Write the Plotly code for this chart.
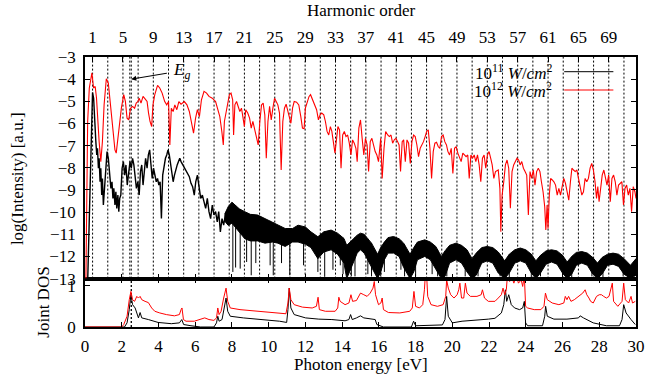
import numpy as np
import plotly.graph_objects as go

PHOTON_EV = 0.4133          # laser photon energy (eV)
EG_LINES = [2.44, 2.52]     # band-gap markers (eV)

# (photon energy eV, log intensity) for 10^12 W/cm^2
red_top = [
    (0.05, -13.0), (0.10, -9.0), (0.145, -5.91), (0.234, -4.40), (0.377, -3.72), (0.466, -4.40),
    (0.555, -4.33), (0.627, -4.86), (0.698, -6.21), (0.77, -6.82), (0.86, -7.72), (0.948, -6.82),
    (1.04, -5.16), (1.16, -3.98), (1.27, -4.18), (1.39, -5.16), (1.52, -6.36), (1.63, -7.19),
    (1.70, -7.34), (1.77, -6.82), (1.88, -5.91), (1.98, -5.31), (2.11, -4.70), (2.20, -5.01),
    (2.29, -5.76), (2.38, -5.84), (2.48, -5.31), (2.59, -5.23), (2.70, -5.31), (2.79, -5.08),
    (2.88, -5.01), (2.95, -4.86), (3.05, -5.08), (3.16, -4.78), (3.27, -4.89), (3.38, -5.01),
    (3.46, -5.53), (3.54, -5.91), (3.63, -6.14), (3.70, -5.16), (3.80, -4.70), (3.95, -4.28),
    (4.07, -4.40), (4.20, -4.63), (4.34, -5.01), (4.45, -5.16), (4.55, -5.01), (4.62, -6.97),
    (4.70, -5.31), (4.80, -5.46), (4.89, -5.16), (5.00, -5.38), (5.11, -5.01), (5.23, -5.13),
    (5.41, -5.01), (5.55, -5.16), (5.68, -5.46), (5.80, -6.06), (5.91, -6.44), (6.02, -5.76),
    (6.12, -5.38), (6.23, -5.69), (6.34, -4.93), (6.48, -4.55), (6.62, -4.63), (6.75, -4.78),
    (6.93, -4.86), (7.11, -5.01), (7.23, -5.31), (7.34, -5.69), (7.45, -6.36), (7.53, -6.97),
    (7.59, -5.91), (7.71, -5.31), (7.86, -4.70), (7.95, -4.63), (8.04, -4.93), (8.09, -6.52),
    (8.16, -5.16), (8.25, -5.01), (8.34, -5.23), (8.43, -5.46), (8.52, -5.31), (8.61, -5.69),
    (8.68, -6.14), (8.75, -5.38), (8.86, -5.53), (8.96, -5.76), (9.05, -6.21), (9.14, -5.91),
    (9.25, -6.29), (9.34, -6.52), (9.43, -6.97), (9.52, -5.91), (9.61, -5.16), (9.70, -5.08),
    (9.79, -5.61), (9.87, -7.57), (9.96, -5.91), (10.05, -5.23), (10.14, -5.84), (10.23, -5.31),
    (10.32, -4.86), (10.41, -5.01), (10.50, -5.16), (10.59, -5.53), (10.68, -8.10), (10.77, -5.91),
    (10.86, -5.31), (10.95, -5.13), (11.03, -5.38), (11.12, -5.69), (11.21, -5.99), (11.30, -5.31),
    (11.39, -5.01), (11.52, -5.04), (11.64, -5.16), (11.75, -5.69), (11.84, -6.21), (11.93, -6.24),
    (12.00, -5.31), (12.11, -5.01), (12.20, -4.78), (12.28, -4.70), (12.39, -4.93), (12.50, -5.08),
    (12.61, -5.38), (12.71, -5.84), (12.80, -5.61), (12.89, -5.53), (13.00, -5.61), (13.09, -5.91),
    (13.18, -6.36), (13.27, -6.52), (13.36, -6.14), (13.44, -6.36), (13.53, -6.82), (13.61, -7.34),
    (13.68, -6.82), (13.77, -6.14), (13.86, -6.29), (13.94, -8.02), (14.03, -6.52), (14.12, -6.36),
    (14.21, -6.59), (14.30, -6.52), (14.39, -6.89), (14.48, -7.42), (14.57, -6.74), (14.66, -6.89),
    (14.75, -7.12), (14.82, -7.72), (14.91, -6.21), (15.00, -5.84), (15.09, -6.67), (15.18, -7.42),
    (15.27, -6.67), (15.36, -6.97), (15.44, -8.17), (15.53, -6.82), (15.62, -6.67), (15.71, -6.97),
    (15.80, -7.27), (15.89, -7.42), (15.98, -7.72), (16.10, -6.67), (16.18, -8.48), (16.28, -7.12),
    (16.37, -6.36), (16.48, -6.52), (16.57, -6.59), (16.66, -6.52), (16.75, -6.89), (16.84, -6.74),
    (16.93, -6.67), (17.02, -6.82), (17.10, -6.97), (17.18, -8.17), (17.27, -6.82), (17.35, -6.74),
    (17.44, -7.72), (17.53, -6.74), (17.62, -6.89), (17.71, -7.80), (17.80, -6.82), (17.89, -6.52),
    (17.98, -6.59), (18.07, -6.97), (18.16, -7.50), (18.25, -7.12), (18.34, -6.97), (18.43, -6.82),
    (18.52, -6.59), (18.60, -6.36), (18.69, -6.29), (18.78, -7.12), (18.87, -8.48), (18.96, -7.27),
    (19.05, -6.89), (19.14, -6.85), (19.23, -7.04), (19.32, -7.12), (19.41, -6.59), (19.50, -6.52),
    (19.59, -6.82), (19.68, -6.97), (19.76, -7.27), (19.85, -7.42), (19.94, -7.12), (20.03, -8.25),
    (20.12, -7.12), (20.21, -7.04), (20.30, -7.34), (20.39, -7.57), (20.48, -7.72), (20.57, -7.34),
    (20.66, -7.42), (20.75, -7.50), (20.84, -7.42), (20.92, -8.48), (21.01, -7.42), (21.10, -7.57),
    (21.19, -7.42), (21.28, -7.72), (21.37, -7.42), (21.46, -7.87), (21.55, -8.63), (21.64, -7.57),
    (21.73, -7.42), (21.82, -8.02), (21.91, -7.42), (22.00, -7.27), (22.09, -7.57), (22.17, -7.87),
    (22.26, -8.48), (22.35, -8.17), (22.50, -8.10), (22.59, -8.93), (22.64, -10.89), (22.71, -9.23),
    (22.80, -8.63), (22.89, -7.87), (22.98, -7.65), (23.07, -8.02), (23.16, -9.83), (23.25, -8.17),
    (23.34, -7.87), (23.43, -7.72), (23.52, -7.57), (23.61, -7.65), (23.69, -7.87), (23.78, -7.72),
    (23.87, -8.02), (23.96, -8.17), (24.05, -8.33), (24.14, -10.13), (24.23, -8.17), (24.32, -8.48),
    (24.41, -8.10), (24.50, -8.78), (24.59, -8.17), (24.68, -8.02), (24.77, -8.17), (24.85, -8.63),
    (24.94, -9.08), (25.03, -9.76), (25.09, -10.81), (25.16, -9.68), (25.21, -10.74), (25.28, -9.23),
    (25.35, -8.48), (25.44, -8.55), (25.53, -8.63), (25.62, -8.78), (25.71, -9.23), (25.80, -8.93),
    (25.89, -9.23), (25.98, -8.85), (26.07, -8.48), (26.16, -8.70), (26.25, -9.08), (26.34, -9.46),
    (26.43, -8.63), (26.51, -8.02), (26.60, -8.10), (26.69, -8.17), (26.78, -8.10), (26.87, -8.48),
    (26.96, -9.00), (27.05, -9.23), (27.14, -9.08), (27.23, -8.48), (27.32, -8.63), (27.41, -8.48),
    (27.50, -8.02), (27.59, -7.80), (27.68, -8.10), (27.77, -8.63), (27.85, -9.38), (27.92, -8.85),
    (27.99, -9.53), (28.07, -8.93), (28.16, -8.33), (28.25, -8.10), (28.34, -8.40), (28.42, -8.78),
    (28.51, -8.33), (28.60, -9.53), (28.69, -8.48), (28.78, -8.33), (28.87, -8.63), (28.96, -9.23),
    (29.05, -8.78), (29.14, -8.70), (29.23, -8.63), (29.32, -9.68), (29.40, -8.93), (29.49, -8.78),
    (29.58, -9.23), (29.67, -8.93), (29.76, -9.98), (29.85, -8.85), (29.94, -9.08), (30.0, -9.38),
]

# (photon energy eV, log intensity) for 10^11 W/cm^2, low-energy part
black_top = [
    (0.15, -13.0), (0.27, -8.93), (0.34, -5.91), (0.41, -4.60), (0.47, -4.86), (0.52, -5.91),
    (0.59, -6.82), (0.64, -7.42), (0.68, -7.12), (0.73, -8.02), (0.77, -7.57), (0.82, -8.63),
    (0.86, -8.02), (0.91, -9.23), (0.95, -8.48), (1.00, -9.68), (1.05, -8.93), (1.13, -7.87),
    (1.20, -7.27), (1.27, -7.57), (1.34, -8.17), (1.41, -8.93), (1.47, -8.63), (1.52, -9.38),
    (1.57, -8.93), (1.63, -9.68), (1.68, -9.08), (1.73, -9.83), (1.79, -9.23), (1.84, -9.98),
    (1.89, -9.38), (1.95, -9.23), (2.02, -8.02), (2.09, -7.72), (2.16, -8.33), (2.23, -7.87),
    (2.30, -8.78), (2.38, -8.02), (2.45, -7.72), (2.52, -8.02), (2.59, -7.57), (2.66, -7.87),
    (2.73, -8.48), (2.80, -8.93), (2.88, -8.63), (2.95, -9.23), (3.02, -8.17), (3.09, -7.87),
    (3.16, -8.78), (3.23, -8.17), (3.30, -7.57), (3.38, -8.02), (3.45, -7.42), (3.52, -7.19),
    (3.59, -7.72), (3.66, -8.48), (3.73, -8.02), (3.80, -8.33), (3.88, -8.63), (3.95, -8.48),
    (4.02, -8.78), (4.09, -8.63), (4.16, -10.29), (4.23, -8.33), (4.30, -7.87), (4.38, -7.57),
    (4.45, -7.42), (4.52, -7.19), (4.59, -7.42), (4.66, -7.87), (4.73, -8.17), (4.80, -8.63),
    (4.87, -8.33), (4.95, -8.02), (5.02, -7.87), (5.09, -7.72), (5.16, -7.57), (5.23, -7.72),
    (5.32, -7.87), (5.41, -8.02), (5.50, -8.10), (5.59, -8.25), (5.68, -8.40), (5.77, -8.70),
    (5.86, -8.85), (5.95, -9.23), (6.03, -8.63), (6.12, -8.33), (6.21, -8.93), (6.30, -9.38),
    (6.39, -9.23), (6.48, -9.53), (6.57, -9.83), (6.66, -9.38), (6.75, -9.98), (6.84, -10.29),
    (6.93, -9.68), (7.02, -10.13), (7.11, -9.98), (7.20, -10.44), (7.28, -9.98), (7.37, -10.89),
    (7.46, -10.29), (7.55, -10.59), (7.64, -10.13),
]

# (photon energy eV, upper edge, lower edge) of the dense 10^11 W/cm^2 band
black_band = [
    (7.60, -10.1, -10.4), (7.8, -9.75, -10.6), (8.0, -9.55, -10.5), (8.2, -9.7, -10.7),
    (8.4, -9.85, -10.9), (8.7, -9.98, -11.2), (9.0, -10.1, -11.3), (9.4, -10.13, -11.3),
    (9.8, -10.29, -11.4), (10.2, -10.44, -11.35), (10.5, -10.59, -11.4), (10.9, -10.74, -11.55),
    (11.3, -10.74, -11.35), (11.6, -10.59, -11.35), (12.0, -10.67, -11.45), (12.3, -10.89, -11.6),
    (12.68, -11.11, -12.1), (13.0, -10.89, -11.8), (13.4, -10.81, -11.7), (13.75, -10.95, -11.9),
    (14.1, -11.19, -12.3), (14.25, -11.5, -13.0), (14.45, -11.34, -12.6), (14.82, -11.04, -11.85),
    (15.0, -10.95, -11.7), (15.2, -11.0, -11.85), (15.4, -11.2, -12.2), (15.6, -11.4, -12.5),
    (15.93, -11.9, -13.0), (16.1, -11.6, -12.7), (16.3, -11.35, -12.15), (16.5, -11.15, -11.85),
    (16.8, -11.1, -11.85), (17.1, -11.2, -12.0), (17.35, -11.4, -12.5), (17.7, -11.9, -13.0),
    (17.9, -11.6, -12.7), (18.1, -11.35, -12.15), (18.5, -11.25, -12.0), (18.8, -11.35, -12.15),
    (19.1, -11.55, -12.6), (19.4, -12.0, -13.0), (19.6, -11.75, -12.9), (19.85, -11.5, -12.3),
    (20.2, -11.4, -12.15), (20.5, -11.5, -12.3), (20.8, -11.7, -12.7), (21.07, -12.1, -13.0),
    (21.3, -11.85, -12.85), (21.6, -11.6, -12.3), (21.9, -11.55, -12.2), (22.2, -11.6, -12.3),
    (22.5, -11.8, -12.75), (22.85, -12.2, -13.0), (23.1, -11.9, -12.75), (23.4, -11.7, -12.3),
    (23.7, -11.62, -12.2), (24.0, -11.7, -12.3), (24.3, -11.9, -12.75), (24.55, -12.2, -13.0),
    (24.8, -11.95, -12.75), (25.1, -11.75, -12.35), (25.4, -11.7, -12.25), (25.7, -11.75, -12.35),
    (26.0, -11.95, -12.75), (26.25, -12.25, -13.0), (26.5, -12.0, -12.8), (26.75, -11.82, -12.4),
    (27.05, -11.78, -12.3), (27.35, -11.85, -12.4), (27.65, -12.05, -12.8), (27.9, -12.3, -13.0),
    (28.15, -12.05, -12.8), (28.45, -11.9, -12.4), (28.75, -11.85, -12.35), (29.05, -11.9, -12.45),
    (29.35, -12.1, -12.8), (29.7, -12.4, -13.0), (30.0, -12.1, -12.85),
]

# deep minima of the 10^11 W/cm^2 band (eV, log intensity)
black_spikes = [
    (8.05, -12.7), (8.2, -12.5), (8.45, -12.55), (8.8, -12.25), (9.05, -12.85), (9.3, -12.3),
    (10.08, -12.4), (10.25, -12.85), (10.7, -12.3), (11.15, -12.85), (11.9, -12.4), (12.68, -12.7),
    (13.05, -12.92), (13.5, -12.6), (13.9, -12.4), (14.05, -12.8), (14.5, -12.9), (14.7, -12.9),
    (15.4, -12.8), (15.6, -12.9), (16.1, -12.9), (16.3, -12.7), (17.2, -12.6), (17.4, -12.9),
    (18.0, -12.9), (18.9, -12.8), (19.2, -12.9), (19.7, -12.9), (20.7, -12.9), (21.4, -12.9),
    (22.6, -12.9), (23.1, -12.95), (24.3, -12.95), (24.8, -12.9), (26.0, -12.9), (26.5, -12.95),
    (27.6, -12.9), (28.2, -12.95), (29.3, -12.9),
]

# Joint DOS (eV, value)
jdos_red = [
    (0.0, 0.0), (2.0, 0.0), (2.11, 0.06), (2.29, 0.26), (2.41, 0.66), (2.50, 0.86), (2.59, 0.66),
    (2.70, 0.62), (2.82, 0.74), (2.91, 0.70), (3.00, 0.74), (3.09, 0.66), (3.27, 0.62), (3.45, 0.59),
    (3.63, 0.46), (3.80, 0.38), (4.07, 0.34), (4.43, 0.30), (4.87, 0.27), (5.14, 0.30), (5.23, 0.42),
    (5.28, 0.46), (5.36, 0.18), (5.50, 0.14), (5.95, 0.14), (6.30, 0.18), (6.52, 0.22), (6.75, 0.18),
    (7.02, 0.16), (7.16, 0.22), (7.23, 0.46), (7.30, 0.30), (7.41, 0.38), (7.55, 0.70), (7.68, 0.94),
    (7.77, 0.62), (7.91, 0.46), (8.44, 0.42), (9.34, 0.38), (10.23, 0.34), (10.94, 0.32), (11.05, 0.58),
    (11.12, 0.94), (11.21, 0.66), (11.39, 0.54), (11.84, 0.48), (12.37, 0.46), (12.60, 0.50),
    (12.69, 0.72), (12.76, 0.42), (13.09, 0.38), (13.62, 0.38), (13.76, 0.46), (13.82, 0.72),
    (13.89, 0.62), (14.16, 0.54), (14.37, 0.58), (14.48, 0.78), (14.57, 0.62), (14.78, 0.64),
    (15.0, 0.82), (15.18, 0.78), (15.36, 0.74), (15.53, 0.82), (15.68, 0.94), (15.75, 1.10),
    (15.82, 0.78), (15.98, 0.54), (16.11, 0.58), (16.18, 0.70), (16.25, 0.42), (16.52, 0.35),
    (17.14, 0.34), (17.68, 0.38), (17.82, 0.46), (17.91, 0.86), (18.0, 0.50), (18.21, 0.46),
    (18.39, 0.54), (18.48, 0.90), (18.53, 1.25), (18.60, 1.25), (18.66, 0.74), (18.84, 0.54),
    (19.19, 0.50), (19.50, 0.54), (19.64, 0.74), (19.69, 1.14), (19.78, 0.94), (19.91, 0.78),
    (20.09, 0.70), (20.26, 0.78), (20.35, 0.90), (20.41, 1.06), (20.50, 0.70), (20.62, 0.70),
    (20.71, 1.06), (20.80, 0.82), (20.98, 0.74), (21.34, 0.74), (21.57, 0.78), (21.64, 0.90),
    (21.75, 0.70), (21.96, 0.62), (22.32, 0.62), (22.50, 0.70), (22.67, 0.78), (22.76, 0.94),
    (22.85, 0.78), (22.94, 0.90), (23.0, 1.25), (23.12, 1.10), (23.21, 1.25), (23.35, 1.06),
    (23.48, 1.25), (23.60, 1.06), (23.75, 1.14), (23.83, 0.98), (23.92, 1.25), (23.99, 0.50),
    (24.10, 0.46), (24.46, 0.42), (24.82, 0.42), (24.99, 0.50), (25.07, 0.82), (25.17, 0.66),
    (25.44, 0.58), (25.80, 0.54), (26.07, 0.58), (26.15, 0.74), (26.24, 0.66), (26.33, 0.74),
    (26.46, 0.62), (26.64, 0.66), (26.87, 0.74), (26.96, 0.78), (27.10, 0.82), (27.23, 0.90),
    (27.32, 0.78), (27.44, 0.70), (27.53, 0.62), (27.67, 0.58), (27.85, 0.74), (28.0, 0.78),
    (28.12, 0.78), (28.24, 0.74), (28.39, 0.70), (28.53, 0.74), (28.65, 0.94), (28.71, 1.06),
    (28.78, 0.62), (29.01, 0.50), (29.24, 0.62), (29.33, 1.06), (29.42, 0.66), (29.60, 0.58),
    (29.73, 0.74), (29.81, 0.58), (29.96, 0.62),
]

jdos_black = [
    (0.0, 0.0), (2.15, 0.0), (2.29, 0.10), (2.41, 0.42), (2.50, 0.78), (2.59, 0.54), (2.73, 0.46),
    (2.91, 0.22), (3.00, 0.35), (3.09, 0.22), (3.45, 0.18), (3.98, 0.11), (4.70, 0.08), (5.14, 0.10),
    (5.27, 0.18), (5.37, 0.06), (5.77, 0.03), (6.30, 0.0), (7.02, 0.0), (7.16, 0.10), (7.23, 0.26),
    (7.30, 0.14), (7.46, 0.18), (7.59, 0.46), (7.68, 0.70), (7.77, 0.38), (7.91, 0.26), (8.62, 0.22),
    (9.69, 0.18), (10.59, 0.14), (10.98, 0.11), (11.05, 0.42), (11.12, 0.94), (11.21, 0.46),
    (11.39, 0.30), (12.01, 0.22), (12.73, 0.19), (13.44, 0.18), (14.16, 0.15), (14.37, 0.18),
    (14.46, 0.30), (14.55, 0.18), (14.78, 0.22), (15.0, 0.27), (15.18, 0.22), (15.53, 0.19),
    (15.80, 0.18), (15.89, 0.06), (16.25, 0.0), (17.77, 0.0), (17.89, 0.14), (18.0, 0.03),
    (19.46, 0.05), (19.60, 0.18), (19.69, 0.74), (19.78, 0.26), (20.0, 0.10), (20.53, 0.14),
    (21.25, 0.16), (21.96, 0.19), (22.32, 0.21), (22.67, 0.34), (22.80, 0.54), (22.89, 0.90),
    (22.96, 0.62), (23.07, 0.78), (23.21, 0.54), (23.39, 0.46), (23.66, 0.42), (23.83, 0.46),
    (23.92, 0.62), (23.99, 0.10), (24.10, 0.03), (24.91, 0.03), (25.03, 0.26), (25.08, 0.50),
    (25.17, 0.26), (25.53, 0.19), (26.24, 0.19), (26.87, 0.22), (26.96, 0.27), (27.14, 0.22),
    (27.67, 0.10), (28.39, 0.03), (29.10, 0.03), (29.24, 0.18), (29.33, 0.54), (29.46, 0.34),
    (29.73, 0.18), (29.96, 0.06),
]

harmonic_ticks = list(range(1, 70, 4))
odd_orders = list(range(1, 72, 2))
energy_ticks = list(range(0, 31, 2))
log_ticks = list(range(-13, -2))

FONT = "Liberation Serif"
FS = 17
DOT = "2px,2px"
fig = go.Figure()

# vertical dotted lines at odd harmonics (top panel)
vx, vy = [], []
for h in odd_orders:
    vx += [h * PHOTON_EV, h * PHOTON_EV, None]
    vy += [-13, -3, None]
for e in EG_LINES:
    vx += [e, e, None]
    vy += [-13, -3, None]
fig.add_trace(go.Scatter(x=vx, y=vy, mode="lines", xaxis="x2", yaxis="y2",
                         line=dict(color="black", width=1, dash=DOT), hoverinfo="skip"))
# band-gap line in bottom panel
gx, gy = [], []
for e in EG_LINES[1:]:
    gx += [e, e, None]
    gy += [0, 1.17, None]
fig.add_trace(go.Scatter(x=gx, y=gy, mode="lines", xaxis="x", yaxis="y",
                         line=dict(color="black", width=1.3, dash=DOT), hoverinfo="skip"))

# black band
bx = [p[0] for p in black_band]
bhi = [p[1] for p in black_band]
blo = [p[2] for p in black_band]
fig.add_trace(go.Scatter(x=bx + bx[::-1], y=bhi + blo[::-1], mode="lines", fill="toself",
                         fillcolor="black", line=dict(color="black", width=1),
                         xaxis="x2", yaxis="y2", hoverinfo="skip"))
sx, sy = [], []
for x, y in black_spikes:
    sx += [x, x, None]
    sy += [float(np.interp(x, bx, bhi)), y, None]
fig.add_trace(go.Scatter(x=sx, y=sy, mode="lines", line=dict(color="black", width=1),
                         xaxis="x2", yaxis="y2", hoverinfo="skip"))
fig.add_trace(go.Scatter(x=[p[0] for p in black_top], y=[p[1] for p in black_top], mode="lines",
                         line=dict(color="black", width=1.4), xaxis="x2", yaxis="y2"))
fig.add_trace(go.Scatter(x=[p[0] for p in red_top], y=[p[1] for p in red_top], mode="lines",
                         line=dict(color="red", width=1.1), xaxis="x2", yaxis="y2"))

# joint DOS
fig.add_trace(go.Scatter(x=[p[0] for p in jdos_black], y=[p[1] for p in jdos_black], mode="lines",
                         line=dict(color="black", width=1), xaxis="x", yaxis="y"))
fig.add_trace(go.Scatter(x=[p[0] for p in jdos_red], y=[p[1] for p in jdos_red], mode="lines",
                         line=dict(color="red", width=1), xaxis="x", yaxis="y"))

# dummy trace for harmonic axis
fig.add_trace(go.Scatter(x=[1], y=[-20], mode="markers", marker=dict(opacity=0),
                         xaxis="x3", yaxis="y2", hoverinfo="skip"))

SPLIT = 48.4 / 270
axcommon = dict(showline=True, linecolor="black", linewidth=1.5, showgrid=False, zeroline=False,
                ticks="inside", tickcolor="black", tickwidth=1, ticklen=5,
                ticklabeloverflow="allow",
                tickfont=dict(family=FONT, size=FS, color="black"))
fig.update_layout(
    width=650, height=383, margin=dict(l=85, r=5, t=57, b=56),
    paper_bgcolor="white", plot_bgcolor="white", showlegend=False,
    font=dict(family=FONT, size=FS, color="black"),
    xaxis=dict(axcommon, domain=[0, 1], anchor="y", range=[0, 30], tickvals=energy_ticks,
               mirror="ticks", ticklabelstandoff=3),
    yaxis=dict(axcommon, domain=[0, SPLIT], anchor="x", range=[0, 1.17], tickvals=[0, 1],
               mirror="ticks", ticklabelstandoff=4),
    xaxis2=dict(axcommon, domain=[0, 1], anchor="y2", range=[0, 30], tickvals=energy_ticks,
                showticklabels=False, mirror=True),
    yaxis2=dict(axcommon, domain=[SPLIT, 1], anchor="x2", range=[-13, -3], tickvals=log_ticks,
                mirror="ticks", ticklabelstandoff=4),
    xaxis3=dict(axcommon, overlaying="x2", anchor="y2", side="top", range=[0, 30 / PHOTON_EV],
                tickvals=harmonic_ticks, showline=False, ticklabelstandoff=10),
)

def px_x(p):
    return (p - 85) / 560

def px_y(p):
    return (327 - p) / 270

def label(text, xp, yp, **kw):
    d = dict(text=text, x=px_x(xp), y=px_y(yp), xref="paper", yref="paper",
             xanchor="center", yanchor="middle", showarrow=False, font=dict(size=FS))
    d.update(kw)
    return d

ann = [
    label("Harmonic order", 365, 10),
    label("Photon energy [eV]", 365, 364),
    label("log(Intensity) [a.u.]", 16, 179, textangle=-90),
    label("Joint DOS", 42, 302, textangle=-90),
    dict(text="", x=2.52, y=-4.0, ax=4.54, ay=-3.72, xref="x2", yref="y2", axref="x2", ayref="y2",
         showarrow=True, arrowhead=2, arrowsize=1, arrowwidth=1, arrowcolor="black"),
    dict(text="<i>E<sub>g</sub></i>", x=5.28, y=-3.62, xref="x2", yref="y2", showarrow=False,
         xanchor="center", yanchor="middle", font=dict(size=FS)),
    label("10<sup>11</sup> <i>W</i>/<i>cm</i><sup>2</sup>", 562, 72, xanchor="right"),
    label("10<sup>12</sup> <i>W</i>/<i>cm</i><sup>2</sup>", 562, 90, xanchor="right"),
]
fig.update_layout(annotations=ann)
fig.add_shape(type="line", xref="paper", yref="paper", x0=px_x(572), x1=px_x(622),
              y0=px_y(71.7), y1=px_y(71.7), line=dict(color="black", width=1))
fig.add_shape(type="line", xref="paper", yref="paper", x0=px_x(572), x1=px_x(622),
              y0=px_y(90), y1=px_y(90), line=dict(color="red", width=1))

fig.write_html("out.html")
